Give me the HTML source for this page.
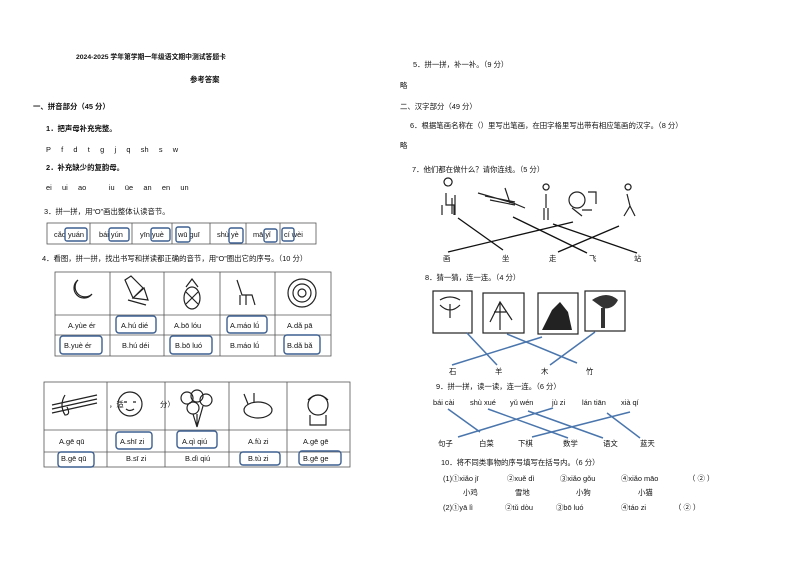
<!DOCTYPE html>
<html><head><meta charset="utf-8"><style>
html,body{margin:0;padding:0;background:#fff;width:794px;height:561px;overflow:hidden}
svg{display:block}
text{font-family:"Liberation Sans","Noto Sans CJK SC",sans-serif;fill:#111}
.s{font-size:7.4px}
.b{font-weight:bold}
.bx{fill:none;stroke:#3d5f8f;stroke-width:1.4}
.t{fill:none;stroke:#555;stroke-width:0.8}
.bl{stroke:#4a76ad;stroke-width:1.5}
.k{stroke:#111;stroke-width:1.3}
.d{fill:none;stroke:#222;stroke-width:1.2}
</style></head><body>
<svg width="794" height="561" viewBox="0 0 794 561">
<text x="76" y="59" class="s b" style="font-size:6.8px">2024-2025 学年第学期一年级语文期中测试答题卡</text>
<text x="190" y="82" class="s b">参考答案</text>
<text x="33" y="109" class="s b">一、拼音部分（45 分）</text>
<text x="46" y="131" class="s b">1．把声母补充完整。</text>
<text x="46" y="152" class="s" xml:space="preserve">P     f     d     t     g     j     q     sh     s     w</text>
<text x="46" y="170" class="s b">2．补充缺少的复韵母。</text>
<text x="46" y="190" class="s" xml:space="preserve">ei     ui     ao           iu     üe     an     en     un</text>
<text x="44" y="214" class="s">3．拼一拼，用“O”画出整体认读音节。</text>
<rect x="47" y="223" width="269" height="21" class="t"/>
<line x1="90" y1="223" x2="90" y2="244" class="t"/>
<line x1="132" y1="223" x2="132" y2="244" class="t"/>
<line x1="172" y1="223" x2="172" y2="244" class="t"/>
<line x1="210" y1="223" x2="210" y2="244" class="t"/>
<line x1="246" y1="223" x2="246" y2="244" class="t"/>
<line x1="280" y1="223" x2="280" y2="244" class="t"/>
<text x="54" y="237" class="s">cǎo yuán</text><rect x="65" y="228" width="22" height="13" rx="2" class="bx"/>
<text x="99" y="237" class="s">bái yún</text><rect x="109" y="228" width="20" height="13" rx="2" class="bx"/>
<text x="140" y="237" class="s">yīn yuè</text><rect x="151" y="228" width="19" height="13" rx="2" class="bx"/>
<text x="178" y="237" class="s">wū  guī</text><rect x="176" y="227" width="14" height="15" rx="2" class="bx"/>
<text x="217" y="237" class="s">shù yè</text><rect x="229" y="228" width="14" height="15" rx="2" class="bx"/>
<text x="253" y="237" class="s">mā  yǐ</text><rect x="264" y="229" width="13" height="13" rx="2" class="bx"/>
<text x="284" y="237" class="s">cí  wèi</text><rect x="282" y="228" width="12" height="13" rx="2" class="bx"/>
<text x="42" y="261" class="s">4．看图，拼一拼，找出书写和拼读都正确的音节，用“O”圈出它的序号。（10 分）</text>
<rect x="55" y="272" width="276" height="84" class="t"/>
<line x1="55" y1="315" x2="331" y2="315" class="t"/>
<line x1="55" y1="335" x2="331" y2="335" class="t"/>
<line x1="110" y1="272" x2="110" y2="356" class="t"/>
<line x1="164" y1="272" x2="164" y2="356" class="t"/>
<line x1="220" y1="272" x2="220" y2="356" class="t"/>
<line x1="275" y1="272" x2="275" y2="356" class="t"/>
<path d="M78 280 a10 10 0 1 0 14 14 a9 9 0 0 1 -14 -14z" class="d"/>
<path d="M125 280 l8 18 l10 -10 l-12 -12z M133 298 l15 2 l-4 -12z M128 300 l18 5" class="d"/>
<ellipse cx="192" cy="298" rx="8" ry="11" class="d"/><path d="M186 287 l6 -8 l6 8 M186 292 l12 12 M198 292 l-12 12" class="d"/>
<path d="M237 280 l5 15 l10 0 l3 10 M240 295 l0 10 M246 295 l0 10" class="d"/>
<circle cx="302" cy="293" r="14" class="d"/><circle cx="302" cy="293" r="9" class="d"/><circle cx="302" cy="293" r="4" class="d"/>
<text x="68" y="328" class="s">A.yùe ér</text>
<text x="121" y="328" class="s">A.hú dié</text><rect x="116" y="316" width="40" height="17" rx="3" class="bx"/>
<text x="174" y="328" class="s">A.bō  lóu</text>
<text x="230" y="328" class="s">A.máo lǘ</text><rect x="227" y="316" width="40" height="17" rx="3" class="bx"/>
<text x="287" y="328" class="s">A.dǎ  pā</text>
<text x="64" y="348" class="s">B.yuè ér</text><rect x="60" y="336" width="42" height="18" rx="3" class="bx"/>
<text x="122" y="348" class="s">B.hú déi</text>
<text x="175" y="348" class="s">B.bō  luó</text><rect x="170" y="336" width="42" height="18" rx="3" class="bx"/>
<text x="230" y="348" class="s">B.máo lǘ</text>
<text x="287" y="348" class="s">B.dǎ  bǎ</text><rect x="284" y="335" width="36" height="19" rx="3" class="bx"/>
<rect x="44" y="382" width="306" height="85" class="t"/>
<line x1="44" y1="430" x2="350" y2="430" class="t"/>
<line x1="44" y1="452" x2="350" y2="452" class="t"/>
<line x1="107" y1="382" x2="107" y2="467" class="t"/>
<line x1="165" y1="382" x2="165" y2="467" class="t"/>
<line x1="229" y1="382" x2="229" y2="467" class="t"/>
<line x1="287" y1="382" x2="287" y2="467" class="t"/>
<path d="M52 405 l45 -10 M52 409 l45 -10 M52 413 l45 -10 M65 395 q-6 10 0 20 q6 0 2 -8" class="d"/>
<circle cx="130" cy="404" r="12" class="d"/><path d="M124 402 l3 0 M133 402 l3 0 M126 409 q4 3 8 0" class="d"/><text x="109" y="407" class="s">，适</text><text x="160" y="407" class="s">分）</text>
<circle cx="187" cy="398" r="6" class="d"/><circle cx="197" cy="396" r="6" class="d"/><circle cx="206" cy="400" r="6" class="d"/><circle cx="193" cy="408" r="6" class="d"/><path d="M197 414 l0 13 M193 414 l4 13 M203 406 l-6 21" class="d"/>
<ellipse cx="258" cy="410" rx="14" ry="8" class="d"/><path d="M248 404 l-4 -10 M254 403 l0 -10" class="d"/>
<circle cx="318" cy="405" r="10" class="d"/><path d="M310 415 l0 10 l16 0 l0 -10 M308 400 q10 -10 20 0" class="d"/>
<text x="59" y="444" class="s">A.gē  qū</text>
<text x="120" y="444" class="s">A.shī  zi</text><rect x="116" y="432" width="36" height="17" rx="3" class="bx"/>
<text x="182" y="444" class="s">A.qì qiú</text><rect x="177" y="431" width="40" height="17" rx="3" class="bx"/>
<text x="248" y="444" class="s">A.fù zi</text>
<text x="303" y="444" class="s">A.gē  gē</text>
<text x="61" y="461" class="s">B.gē  qū</text><rect x="58" y="452" width="36" height="15" rx="3" class="bx"/>
<text x="126" y="461" class="s">B.sī  zi</text>
<text x="185" y="461" class="s">B.dì qiú</text>
<text x="248" y="461" class="s">B.tù zi</text><rect x="240" y="452" width="40" height="13" rx="3" class="bx"/>
<text x="303" y="461" class="s">B.gē  ge</text><rect x="299" y="451" width="42" height="14" rx="3" class="bx"/>

<text x="413" y="67" class="s">5．拼一拼，补一补。（9 分）</text>
<text x="400" y="88" class="s">略</text>
<text x="400" y="109" class="s">二、汉字部分（49 分）</text>
<text x="410" y="128" class="s">6．根据笔画名称在（）里写出笔画，在田字格里写出带有相应笔画的汉字。（8 分）</text>
<text x="400" y="148" class="s">略</text>
<text x="412" y="172" class="s">7．他们都在做什么？请你连线。（5 分）</text>
<path d="M448 186 a4 4 0 1 1 0.1 0 M446 193 l0 12 l8 0 l0 10 M442 205 l0 10 M452 198 l0 16 M455 195 l0 20" class="d"/>
<path d="M478 193 l35 10 l12 5 M485 196 l30 6 M505 188 l5 15 M490 200 l25 5" class="d"/>
<path d="M546 190 a3 3 0 1 1 0.1 0 M546 194 l0 14 M544 208 l0 12 M548 208 l0 12" class="d"/>
<circle cx="577" cy="200" r="8" class="d"/><path d="M588 192 l8 0 l0 12 M582 210 l10 0 M572 208 l10 8" class="d"/>
<path d="M628 190 a3 3 0 1 1 0.1 0 M627 194 l3 12 l-6 10 M630 206 l5 10" class="d"/>
<line x1="458" y1="218" x2="503" y2="250" class="k"/>
<line x1="513" y1="217" x2="587" y2="253" class="k"/>
<line x1="553" y1="224" x2="637" y2="253" class="k"/>
<line x1="573" y1="222" x2="448" y2="252" class="k"/>
<line x1="619" y1="226" x2="558" y2="252" class="k"/>
<text x="443" y="261" class="s">画</text><text x="502" y="261" class="s">坐</text><text x="549" y="261" class="s">走</text><text x="589" y="261" class="s">飞</text><text x="634" y="261" class="s">站</text>
<text x="425" y="280" class="s">8．猜一猜，连一连。（4 分）</text>
<rect x="433" y="291" width="39" height="42" class="d"/>
<rect x="483" y="293" width="41" height="40" class="d"/>
<rect x="538" y="293" width="40" height="41" class="d"/>
<rect x="585" y="291" width="40" height="40" class="d"/>
<path d="M440 300 q10 -6 20 0 M450 304 l0 14 M440 305 q10 10 20 0" class="d"/>
<path d="M490 322 l10 -20 l12 18 M500 302 l0 28 M494 312 l12 0" class="d"/>
<path d="M542 330 l10 -20 l8 -8 l8 10 l4 18z" style="fill:#222"/>
<path d="M592 300 q15 -10 26 0 q-5 10 -15 8z M601 308 l4 0 l0 20 l-4 0z" style="fill:#333"/>
<line x1="467" y1="333" x2="497" y2="365" class="bl"/>
<line x1="507" y1="334" x2="577" y2="363" class="bl"/>
<line x1="542" y1="337" x2="452" y2="365" class="bl"/>
<line x1="595" y1="332" x2="550" y2="365" class="bl"/>
<text x="449" y="374" class="s">石</text><text x="495" y="374" class="s">羊</text><text x="541" y="374" class="s">木</text><text x="586" y="374" class="s">竹</text>
<text x="436" y="389" class="s">9．拼一拼，读一读，连一连。（6 分）</text>
<text x="433" y="405" class="s">bái cài</text><text x="470" y="405" class="s">shù xué</text><text x="510" y="405" class="s">yǔ  wén</text><text x="552" y="405" class="s">jù zi</text><text x="582" y="405" class="s">lán tiān</text><text x="621" y="405" class="s">xià qí</text>
<line x1="448" y1="409" x2="480" y2="432" class="bl"/>
<line x1="488" y1="409" x2="568" y2="438" class="bl"/>
<line x1="528" y1="411" x2="603" y2="438" class="bl"/>
<line x1="553" y1="408" x2="458" y2="437" class="bl"/>
<line x1="630" y1="412" x2="532" y2="437" class="bl"/>
<line x1="607" y1="413" x2="640" y2="438" class="bl"/>
<text x="438" y="446" class="s">句子</text><text x="479" y="446" class="s">白菜</text><text x="518" y="446" class="s">下棋</text><text x="563" y="446" class="s">数学</text><text x="603" y="446" class="s">语文</text><text x="640" y="446" class="s">蓝天</text>
<text x="441" y="465" class="s">10．将不同类事物的序号填写在括号内。（6 分）</text>
<text x="443" y="481" class="s">(1)①xiǎo jī</text><text x="507" y="481" class="s">②xuě  dì</text><text x="560" y="481" class="s">③xiǎo gǒu</text><text x="621" y="481" class="s">④xiǎo māo</text><text x="688" y="481" class="s">（  ②  ）</text>
<text x="463" y="495" class="s">小鸡</text><text x="515" y="495" class="s">雪地</text><text x="576" y="495" class="s">小狗</text><text x="638" y="495" class="s">小猫</text>
<text x="443" y="510" class="s">(2)①yā  lì</text><text x="505" y="510" class="s">②tǔ  dòu</text><text x="556" y="510" class="s">③bō  luó</text><text x="621" y="510" class="s">④táo zi</text><text x="674" y="510" class="s">（  ②    ）</text>
</svg>
</body></html>
